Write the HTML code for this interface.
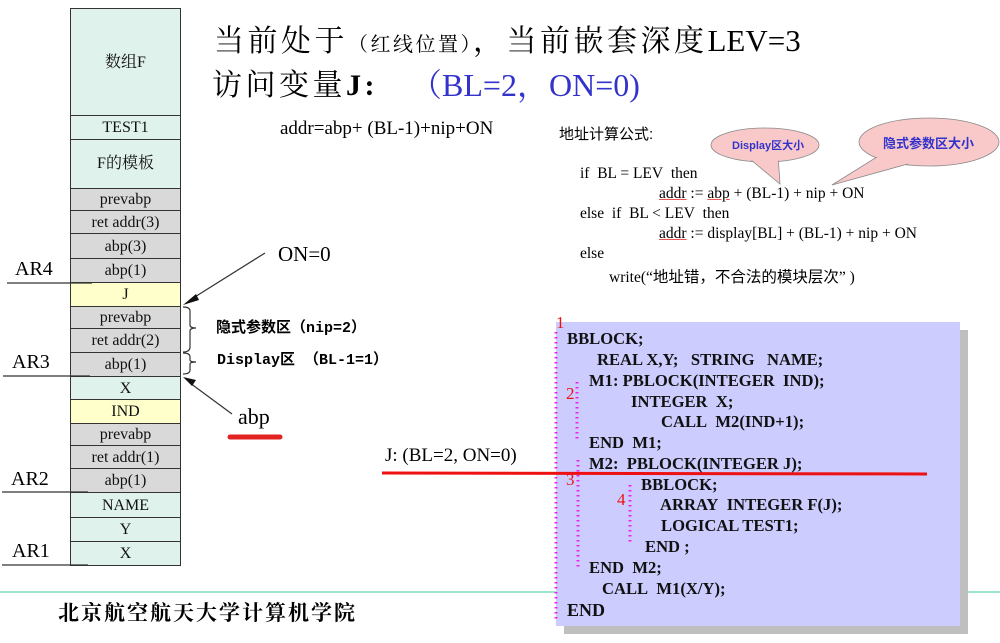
<!DOCTYPE html>
<html><head><meta charset="utf-8"><style>
body{margin:0;width:1000px;height:643px;background:#fff;position:relative;overflow:hidden;font-family:"Liberation Serif","Noto Serif CJK SC",serif;}
.a{position:absolute;white-space:nowrap;}
.cell{position:absolute;left:70px;width:111px;border:1px solid #333;box-sizing:border-box;text-align:center;font-size:16px;color:#111;}
.g{background:#dff2ec}.r{background:#d9d9d9}.y{background:#ffffcc}
.code{font-weight:bold;font-size:16.6px;color:#111;}
.cj{font-family:"Noto Serif CJK SC",serif;}
.mono{font-family:"Liberation Mono","Noto Sans CJK SC",monospace;font-weight:bold;font-size:15px;}
</style></head><body>
<div class="cell g" style="top:8px;height:108px;line-height:108px;">数组F</div>
<div class="cell g" style="top:115px;height:25px;line-height:24px;">TEST1</div>
<div class="cell g" style="top:139px;height:50px;line-height:48px;">F的模板</div>
<div class="cell r" style="top:188px;height:23px;line-height:22px;">prevabp</div>
<div class="cell r" style="top:210px;height:24px;line-height:23px;">ret addr(3)</div>
<div class="cell r" style="top:233px;height:26px;line-height:25px;">abp(3)</div>
<div class="cell r" style="top:258px;height:25px;line-height:24px;">abp(1)</div>
<div class="cell y" style="top:282px;height:25px;line-height:24px;">J</div>
<div class="cell r" style="top:306px;height:23px;line-height:22px;">prevabp</div>
<div class="cell r" style="top:328px;height:25px;line-height:24px;">ret addr(2)</div>
<div class="cell r" style="top:352px;height:25px;line-height:24px;">abp(1)</div>
<div class="cell g" style="top:376px;height:24px;line-height:23px;">X</div>
<div class="cell y" style="top:399px;height:25px;line-height:24px;">IND</div>
<div class="cell r" style="top:423px;height:23px;line-height:22px;">prevabp</div>
<div class="cell r" style="top:445px;height:24px;line-height:23px;">ret addr(1)</div>
<div class="cell r" style="top:468px;height:25px;line-height:24px;">abp(1)</div>
<div class="cell g" style="top:492px;height:26px;line-height:25px;">NAME</div>
<div class="cell g" style="top:517px;height:25px;line-height:24px;">Y</div>
<div class="cell g" style="top:541px;height:25px;line-height:24px;">X</div>

<div class="a" style="left:15px;top:258px;font-size:20px;">AR4</div>
<div class="a" style="left:12px;top:351px;font-size:20px;">AR3</div>
<div class="a" style="left:11px;top:468px;font-size:20px;">AR2</div>
<div class="a" style="left:12px;top:540px;font-size:20px;">AR1</div>

<svg class="a" style="left:0;top:0" width="1000" height="643">
<g stroke="#333" stroke-width="1.2" fill="none">
<line x1="7" y1="283" x2="92" y2="283"/>
<line x1="3" y1="376" x2="90" y2="376"/>
<line x1="2" y1="492" x2="88" y2="492"/>
<line x1="2" y1="565" x2="88" y2="565"/>
<path d="M183 307 Q190 307 190 311 L190 325 Q190 328 196 328 Q190 328 190 331 L190 347 Q190 352 183 352"/>
<path d="M183 353 Q190 353 190 357 L190 360 Q190 362 196 362 Q190 362 190 364 L190 370 Q190 374 183 374"/>
<line x1="265" y1="253" x2="190" y2="300"/>
<line x1="232" y1="414" x2="190" y2="383"/>
</g>
<polygon points="183,305 196,294 199,300" fill="#111"/>
<polygon points="183,377 192,386 196,380" fill="#111"/>
<line x1="230" y1="437" x2="280" y2="437" stroke="#e32222" stroke-width="5" stroke-linecap="round"/>
<line x1="0" y1="592" x2="1000" y2="592" stroke="#3cc9a0" stroke-width="1"/>
<ellipse cx="765" cy="145" rx="54" ry="17" fill="#f9c9c9" stroke="#888" stroke-width="0.8"/>
<polygon points="745,155 778,155 780,184" fill="#f9c9c9" stroke="#888" stroke-width="0.8"/>
<ellipse cx="765" cy="145" rx="53" ry="16" fill="#f9c9c9"/>
<ellipse cx="929" cy="142" rx="70" ry="24" fill="#f9c9c9" stroke="#888" stroke-width="0.8"/>
<polygon points="880,155 915,162 832,185" fill="#f9c9c9" stroke="#888" stroke-width="0.8"/>
<ellipse cx="929" cy="142" rx="69" ry="23" fill="#f9c9c9"/>
<rect x="564" y="330" width="404" height="304" fill="#bfbfbf"/>
<rect x="556" y="322" width="404" height="304" fill="#ccccff"/>
<g stroke="#ee22ee" stroke-width="3" stroke-dasharray="1.5 3.5" fill="none">
<line x1="556" y1="332" x2="556" y2="620"/>
<line x1="577" y1="382" x2="577" y2="440"/>
<line x1="578" y1="460" x2="578" y2="570"/>
<line x1="630" y1="485" x2="630" y2="545"/>
</g>
<line x1="382" y1="473" x2="927" y2="474" stroke="#ee1111" stroke-width="3"/>
</svg>

<div class="a mono" style="left:216px;top:316px;">隐式参数区（nip=2）</div>
<div class="a mono" style="left:217px;top:348px;">Display区 （BL-1=1）</div>
<div class="a" style="left:278px;top:242px;font-size:21px;">ON=0</div>
<div class="a" style="left:238px;top:404px;font-size:22px;">abp</div>

<div class="a cj" style="left:214px;top:16px;font-size:30px;letter-spacing:3.5px;">当前处于<span style="font-size:20px;letter-spacing:2.5px">（红线位置）</span>，当前嵌套深度<span style="font-family:'Liberation Serif',serif;letter-spacing:0;font-size:31px">LEV=3</span></div>
<div class="a cj" style="left:212px;top:60px;font-size:30px;letter-spacing:3.5px;">访问变量<span style="font-family:'Liberation Serif',serif;font-weight:bold">J:</span></div>
<div class="a" style="left:410px;top:60px;font-size:32px;color:#3333cc;"><span class="cj">（</span>BL=2<span class="cj">，</span>ON=0)</div>
<div class="a" style="left:280px;top:118px;font-size:19px;">addr=abp+ (BL-1)+nip+ON</div>
<div class="a" style="left:559px;top:123px;font-size:15px;font-family:'Liberation Sans','Noto Sans CJK SC',sans-serif;">地址计算公式:</div>
<div class="a" style="left:732px;top:137px;font-size:11px;font-weight:bold;color:#3333cc;font-family:'Liberation Sans','Noto Sans CJK SC',sans-serif;">Display区大小</div>
<div class="a" style="left:883px;top:133px;font-size:13px;font-weight:bold;color:#3333cc;font-family:'Liberation Sans','Noto Sans CJK SC',sans-serif;">隐式参数区大小</div>
<div style="font-size:15.5px;">
<div class="a" style="left:580px;top:165px;">if&nbsp; BL = LEV&nbsp; then</div>
<div class="a" style="left:659px;top:185px;"><u style="text-decoration-color:#e55">addr</u> := <u style="text-decoration-color:#e55">abp</u> + (BL-1) + nip + ON</div>
<div class="a" style="left:580px;top:205px;">else&nbsp; if&nbsp; BL &lt; LEV&nbsp; then</div>
<div class="a" style="left:659px;top:225px;"><u style="text-decoration-color:#e55">addr</u> := display[BL] + (BL-1) + nip + ON</div>
<div class="a" style="left:580px;top:245px;">else</div>
<div class="a" style="left:609px;top:265px;">write(“<span style="font-family:'Liberation Sans','Noto Sans CJK SC',sans-serif">地址错，不合法的模块层次</span>” )</div>
</div>

<div class="a" style="left:385px;top:445px;font-size:19px;">J: (BL=2, ON=0)</div>

<div class="a" style="left:556px;top:313px;font-size:17px;color:#e11;">1</div>
<div class="a" style="left:566px;top:384px;font-size:17px;color:#e11;">2</div>
<div class="a" style="left:566px;top:470px;font-size:17px;color:#e11;">3</div>
<div class="a" style="left:617px;top:490px;font-size:17px;color:#e11;">4</div>
<div class="code">
<div class="a" style="left:567px;top:329px;">BBLOCK;</div>
<div class="a" style="left:597px;top:350px;">REAL X,Y;&nbsp;&nbsp; STRING&nbsp;&nbsp; NAME;</div>
<div class="a" style="left:589px;top:371px;">M1: PBLOCK(INTEGER&nbsp; IND);</div>
<div class="a" style="left:631px;top:392px;">INTEGER&nbsp; X;</div>
<div class="a" style="left:661px;top:412px;">CALL&nbsp; M2(IND+1);</div>
<div class="a" style="left:589px;top:433px;">END&nbsp; M1;</div>
<div class="a" style="left:589px;top:454px;">M2:&nbsp; PBLOCK(INTEGER J);</div>
<div class="a" style="left:641px;top:475px;">BBLOCK;</div>
<div class="a" style="left:660px;top:495px;">ARRAY&nbsp; INTEGER F(J);</div>
<div class="a" style="left:661px;top:516px;">LOGICAL TEST1;</div>
<div class="a" style="left:645px;top:537px;">END ;</div>
<div class="a" style="left:589px;top:558px;">END&nbsp; M2;</div>
<div class="a" style="left:602px;top:579px;">CALL&nbsp; M1(X/Y);</div>
<div class="a" style="left:567px;top:600px;font-size:18px;">END</div>
</div>

<div class="a cj" style="left:58px;top:597px;font-size:21px;letter-spacing:2px;font-weight:bold;">北京航空航天大学计算机学院</div>
</body></html>
